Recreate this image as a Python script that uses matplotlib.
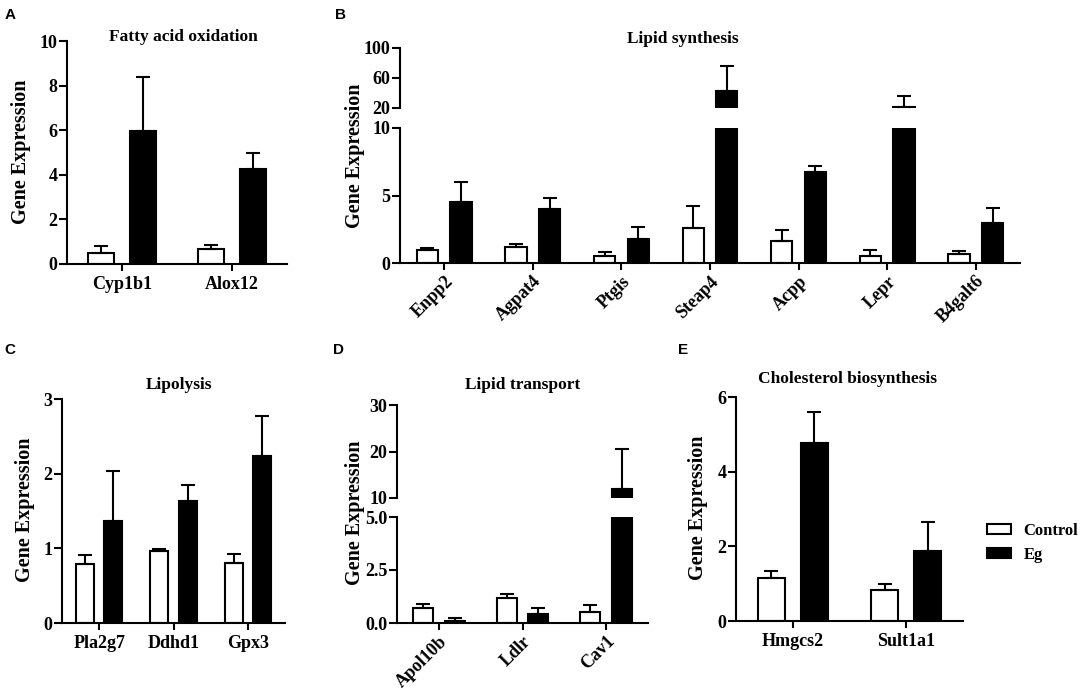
import numpy as np
import matplotlib
matplotlib.use("Agg")
import matplotlib.pyplot as plt
from matplotlib.patches import Patch

plt.rcParams['font.family'] = ['Liberation Serif', 'DejaVu Serif']
plt.rcParams['font.weight'] = 'bold'

# data (mean and upper error)
fa_genes = ['Cyp1b1', 'Alox12']
fa_ctrl = [0.49, 0.67]
fa_ctrl_err = [0.30, 0.20]
fa_eg = [5.98, 4.26]
fa_eg_err = [2.41, 0.72]

ls_genes = ['Enpp2', 'Agpat4', 'Ptgis', 'Steap4', 'Acpp', 'Lepr', 'B4galt6']
ls_ctrl = [0.96, 1.2, 0.55, 2.62, 1.63, 0.55, 0.7]
ls_ctrl_err = [0.13, 0.18, 0.26, 1.6, 0.81, 0.45, 0.2]
ls_eg = [4.5, 4.0, 1.8, 42.5, 6.74, 21.0, 2.96]
ls_eg_err = [1.5, 0.8, 0.9, 34.0, 0.46, 15.0, 1.11]

lp_genes = ['Pla2g7', 'Ddhd1', 'Gpx3']
lp_ctrl = [0.79, 0.96, 0.80]
lp_ctrl_err = [0.12, 0.03, 0.12]
lp_eg = [1.37, 1.63, 2.23]
lp_eg_err = [0.66, 0.22, 0.54]

lt_genes = ['Apol10b', 'Ldlr', 'Cav1']
lt_ctrl = [0.71, 1.17, 0.5]
lt_ctrl_err = [0.2, 0.2, 0.33]
lt_eg = [0.11, 0.44, 11.9]
lt_eg_err = [0.13, 0.27, 8.7]

ch_genes = ['Hmgcs2', 'Sult1a1']
ch_ctrl = [1.16, 0.82]
ch_ctrl_err = [0.17, 0.18]
ch_eg = [4.77, 1.87]
ch_eg_err = [0.83, 0.77]

W, H = 1084, 690
fig = plt.figure(figsize=(W / 100, H / 100), dpi=100)

LW = 1.5
TICK_FS = 13
XT_FS = 13


def ax_at(x0, x1, ytop, ybot):
    # pixel box -> figure axes
    return fig.add_axes([x0 / W, (H - ybot) / H, (x1 - x0) / W, (ybot - ytop) / H])


def ftext(x, y, s, **kw):
    fig.text(x / W, (H - y) / H, s, **kw)


def draw_bars(ax, ctrl, ctrl_err, eg, eg_err):
    x = np.arange(len(ctrl))
    off, bw = 0.19, 0.24
    ax.bar(x - off, ctrl, bw, color='white', edgecolor='black', linewidth=LW, zorder=2)
    ax.bar(x + off, eg, bw, color='black', edgecolor='black', linewidth=LW, zorder=2)
    ax.errorbar(x - off, ctrl, yerr=[np.zeros(len(ctrl)), ctrl_err], fmt='none',
                ecolor='black', elinewidth=LW, capsize=5, capthick=LW, zorder=3)
    ax.errorbar(x + off, eg, yerr=[np.zeros(len(eg)), eg_err], fmt='none',
                ecolor='black', elinewidth=LW, capsize=5, capthick=LW, zorder=3)
    ax.set_xlim(-0.5, len(ctrl) - 0.5)


def style(ax, genes, rot=0):
    for s in ['top', 'right']:
        ax.spines[s].set_visible(False)
    for s in ['left', 'bottom']:
        ax.spines[s].set_linewidth(LW)
    ax.tick_params(axis='y', direction='out', length=6, width=LW, labelsize=TICK_FS, pad=1)
    ax.tick_params(axis='x', direction='out', length=5, width=LW, labelsize=XT_FS,
                   pad=2 if rot else 3.5)
    ax.set_xticks(np.arange(len(genes)))
    if rot:
        ax.set_xticklabels(genes, rotation=rot, ha='right', rotation_mode='anchor')
    else:
        ax.set_xticklabels(genes)
    for lab in ax.get_xticklabels() + ax.get_yticklabels():
        lab.set_fontweight('bold')


def style_top(ax):
    for s in ['top', 'right', 'bottom']:
        ax.spines[s].set_visible(False)
    ax.spines['left'].set_linewidth(LW)
    ax.tick_params(axis='y', direction='out', length=6, width=LW, labelsize=TICK_FS, pad=1)
    ax.set_xticks([])
    for lab in ax.get_yticklabels():
        lab.set_fontweight('bold')


# A - fatty acid oxidation
axA = ax_at(67, 287, 41, 264)
draw_bars(axA, fa_ctrl, fa_ctrl_err, fa_eg, fa_eg_err)
axA.set_ylim(0, 10)
axA.set_yticks([0, 2, 4, 6, 8, 10])
style(axA, fa_genes)

# B - lipid synthesis (broken axis)
axB = ax_at(400, 1020, 128, 263)
draw_bars(axB, ls_ctrl, ls_ctrl_err, ls_eg, ls_eg_err)
axB.set_ylim(0, 10)
axB.set_yticks([0, 5, 10])
style(axB, ls_genes, rot=45)
axBt = ax_at(400, 1020, 48, 108)
draw_bars(axBt, ls_ctrl, ls_ctrl_err, ls_eg, ls_eg_err)
axBt.set_ylim(20, 100)
axBt.set_yticks([20, 60, 100])
style_top(axBt)

# C - lipolysis
axC = ax_at(62, 285, 399, 623)
draw_bars(axC, lp_ctrl, lp_ctrl_err, lp_eg, lp_eg_err)
axC.set_ylim(0, 3)
axC.set_yticks([0, 1, 2, 3])
style(axC, lp_genes)

# D - lipid transport (broken axis)
axD = ax_at(397, 648, 517, 623)
draw_bars(axD, lt_ctrl, lt_ctrl_err, lt_eg, lt_eg_err)
axD.set_ylim(0, 5)
axD.set_yticks([0, 2.5, 5])
axD.set_yticklabels(['0.0', '2.5', '5.0'])
style(axD, lt_genes, rot=45)
axDt = ax_at(397, 648, 405, 498)
draw_bars(axDt, lt_ctrl, lt_ctrl_err, lt_eg, lt_eg_err)
axDt.set_ylim(10, 30)
axDt.set_yticks([10, 20, 30])
style_top(axDt)

# E - cholesterol biosynthesis
axE = ax_at(736, 963, 397, 621)
draw_bars(axE, ch_ctrl, ch_ctrl_err, ch_eg, ch_eg_err)
axE.set_ylim(0, 6)
axE.set_yticks([0, 2, 4, 6])
style(axE, ch_genes)

# titles
TFS = 12.5
ftext(183, 37, 'Fatty acid oxidation', ha='center', va='center', fontsize=TFS, fontweight='bold')
ftext(683, 39, 'Lipid synthesis', ha='center', va='center', fontsize=TFS, fontweight='bold')
ftext(179, 385, 'Lipolysis', ha='center', va='center', fontsize=TFS, fontweight='bold')
ftext(523, 385, 'Lipid transport', ha='center', va='center', fontsize=TFS, fontweight='bold')
ftext(848, 379, 'Cholesterol biosynthesis', ha='center', va='center', fontsize=TFS, fontweight='bold')

# y labels
YFS = 14.5
ftext(21, 152, 'Gene Expression', rotation=90, ha='center', va='center', fontsize=YFS, fontweight='bold')
ftext(355, 156, 'Gene Expression', rotation=90, ha='center', va='center', fontsize=YFS, fontweight='bold')
ftext(25, 510, 'Gene Expression', rotation=90, ha='center', va='center', fontsize=YFS, fontweight='bold')
ftext(355, 513, 'Gene Expression', rotation=90, ha='center', va='center', fontsize=YFS, fontweight='bold')
ftext(698, 508, 'Gene Expression', rotation=90, ha='center', va='center', fontsize=YFS, fontweight='bold')

# panel letters
for lab, px, py in [('A', 10, 15), ('B', 340, 15), ('C', 10, 350), ('D', 338, 350), ('E', 683, 350)]:
    ftext(px, py, lab, ha='center', va='center', fontsize=11, fontweight='bold',
          family='Liberation Sans')

# legend
handles = [Patch(facecolor='white', edgecolor='black', linewidth=LW, label='Control'),
           Patch(facecolor='black', edgecolor='black', linewidth=LW, label='Eg')]
fig.legend(handles=handles, loc='center left', bbox_to_anchor=(987 / W, (H - 543) / H),
           frameon=False, borderpad=0, borderaxespad=0, handlelength=1.45, handleheight=0.55,
           handletextpad=0.75, labelspacing=0.45, prop={'weight': 'bold', 'size': 12})

fig.savefig('out.png', dpi=100, facecolor='white')
